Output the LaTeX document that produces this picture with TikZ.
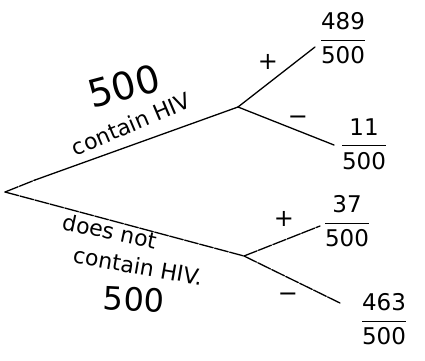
\documentclass[tikz,border=0pt]{standalone}
\usepackage{amsmath}
\usepackage{fontspec}
\setmainfont{DejaVu Sans}
\begin{document}
\begin{tikzpicture}[x=1pt,y=-1pt,
  branch/.style={line width=1.3pt, line cap=round},
  pen/.style={branch, dash pattern=on 14pt off 1.5pt},
  lbl/.style={font=\fontsize{22}{24}\selectfont, inner sep=0pt},
  big/.style={font=\fontsize{38}{40}\selectfont, inner sep=0pt},
  sign/.style={font=\fontsize{24}{24}\selectfont, inner sep=0pt},
  frac/.style={font=\fontsize{23}{25}\selectfont, inner sep=0pt}]
\useasboundingbox (0,0) rectangle (425,360);
\coordinate (root) at (5,192);
\coordinate (ustart) at (35,180);
\coordinate (ufork) at (238,107);
\coordinate (lfork) at (244,256);
\node[frac] (f489) at (343,38) {$\dfrac{\text{489}}{\text{500}}$};
\node[frac] (f11) at (364,144) {$\dfrac{\text{11}}{\text{500}}$};
\node[frac] (f37) at (347,221) {$\dfrac{\text{37}}{\text{500}}$};
\node[frac] (f463) at (384,319) {$\dfrac{\text{463}}{\text{500}}$};
\coordinate (e489) at (315,47);
\coordinate (e11) at (334,145);
\coordinate (e37) at (320,226);
\coordinate (e463) at (340,303);
% branches
\draw[branch] (ustart) -- (ufork);
\draw[pen] (root) -- (ustart);
\draw[branch] (ufork) -- (e489);
\draw[branch] (ufork) -- (e11);
\draw[pen] (root) -- (lfork);
\draw[pen] (lfork) -- (e37);
\draw[pen] (lfork) -- (e463);
% labels
\node[big, rotate=15] (n500a) at (124,86) {500};
\node[lbl, rotate=23] (contain) at (131,124) {contain HIV};
\node[lbl, rotate=-12] (doesnot) at (110,231) {does not};
\node[lbl, rotate=-10] (contain2) at (138,266) {contain HIV.};
\node[big, rotate=-3, font=\fontsize{32}{34}\selectfont] (n500b) at (134,299) {500};
\node[sign] (p1) at (268,62) {+};
\node[sign] (m1) at (298,120) {−};
\node[sign] (p2) at (284,219) {+};
\node[sign] (m2) at (288,297) {−};
\end{tikzpicture}
\end{document}
